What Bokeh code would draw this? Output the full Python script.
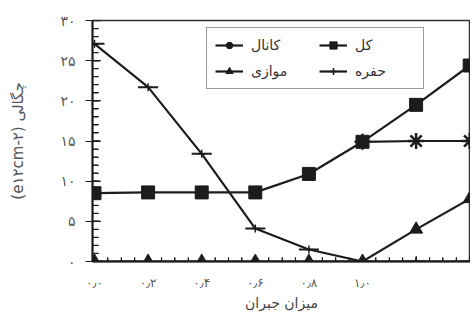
from bokeh.plotting import figure
from bokeh.models import (Range1d, FixedTicker, Legend, LegendItem,
                          CustomJSTickFormatter)
from bokeh.embed import file_html
from bokeh.resources import INLINE
import math

# ---- data ----
x_all = [0.0, 0.2, 0.4, 0.6, 0.8, 1.0, 1.2, 1.4]
kol = [8.5, 8.6, 8.6, 8.6, 10.9, 14.9, 19.5, 24.4]          # کل
hofreh = [27.1, 21.7, 13.4, 4.1, 1.5, 0.0, 0.0, 0.0]          # حفره
mavazi = [0.0, 0.0, 0.0, 0.0, 0.0, 0.0, 4.0, 7.8]             # موازی
kanal_x = [1.0, 1.2, 1.4]
kanal = [14.9, 15.0, 15.0]                                     # کانال

x_ticks = [0.0, 0.2, 0.4, 0.6, 0.8, 1.0, 1.2, 1.4]
x_tick_labels = ["۰٫۰", "۰٫۲", "۰٫۴", "۰٫۶", "۰٫۸", "۱٫۰", "", ""]
x_minor = [round(i * 0.05, 2) for i in range(0, 29)]
y_ticks = [0, 5, 10, 15, 20, 25, 30]
y_tick_labels = ["۰", "۵", "۱۰", "۱۵", "۲۰", "۲۵", "۳۰"]
y_minor = list(range(0, 31))

x_title = "میزان جبران"
y_title = "(e۱۲cm-۲) چگالی"
names = {"kanal": "کانال", "kol": "کل", "mavazi": "موازی", "hofreh": "حفره"}

FONT = "DejaVu Sans"
INK = "#1c1c1c"
TXT = "#555555"

LOOKUP = """
let k = -1;
for (let j = 0; j < tv.length; j++) { if (Math.abs(tv[j] - tick) < 1e-6) { k = j; } }
return k >= 0 ? tl[k] : "";
"""

p = figure(width=470, height=320, output_backend="svg", toolbar_location=None,
           x_range=Range1d(-0.0075, 1.403), y_range=Range1d(0, 30),
           min_border_left=92, min_border_right=0, min_border_top=20,
           min_border_bottom=59, frame_width=378, frame_height=241)
p.outline_line_color = "#333333"
p.outline_line_width = 1.5
p.grid.visible = False

# axes
xa = p.xaxis[0]
xa.ticker = FixedTicker(ticks=x_ticks, minor_ticks=x_minor)
xa.formatter = CustomJSTickFormatter(args=dict(tv=x_ticks, tl=x_tick_labels), code=LOOKUP)
xa.major_tick_in = 5
xa.major_tick_out = 0
xa.minor_tick_in = 4
xa.minor_tick_out = 0
xa.axis_line_width = 2
xa.axis_line_color = INK
xa.major_tick_line_color = INK
xa.minor_tick_line_color = INK
xa.major_label_text_font = FONT
xa.major_label_text_font_size = "12px"
xa.major_label_text_color = TXT
xa.major_label_standoff = 14
xa.axis_label = x_title
xa.axis_label_text_font = FONT
xa.axis_label_text_font_style = "normal"
xa.axis_label_text_font_size = "14px"
xa.axis_label_text_color = "#444444"
xa.axis_label_standoff = 2

ya = p.yaxis[0]
ya.ticker = FixedTicker(ticks=y_ticks, minor_ticks=y_minor)
ya.formatter = CustomJSTickFormatter(args=dict(tv=y_ticks, tl=y_tick_labels), code=LOOKUP)
ya.major_tick_in = 8
ya.major_tick_out = 7
ya.minor_tick_in = 6
ya.minor_tick_out = 0
ya.axis_line_width = 2
ya.axis_line_color = INK
ya.major_tick_line_color = INK
ya.minor_tick_line_color = INK
ya.major_label_text_font = FONT
ya.major_label_text_font_size = "14px"
ya.major_label_text_color = TXT
ya.major_label_standoff = 10
ya.axis_label = y_title
ya.axis_label_text_font = FONT
ya.axis_label_text_font_style = "normal"
ya.axis_label_text_font_size = "15px"
ya.axis_label_text_color = TXT
ya.axis_label_standoff = 30

# tick marks drawn on the axes from the tick arrays
x0 = p.x_range.start
y0 = p.y_range.start
p.scatter([x0] * len(y_ticks), y_ticks, marker="dash", size=16, line_color=INK, line_width=1.5)
p.scatter([x0] * len(y_minor), y_minor, marker="dash", size=12, line_color=INK, line_width=1.2)
p.scatter(x_ticks, [y0] * len(x_ticks), marker="dash", angle=math.pi / 2, size=10,
          line_color=INK, line_width=1.3)
p.scatter(x_minor, [y0] * len(x_minor), marker="dash", angle=math.pi / 2, size=8,
          line_color=INK, line_width=1.2)

# series
l_hof = p.line(x_all, hofreh, line_color=INK, line_width=2.2)
m_hof = p.scatter(x_all, hofreh, marker="dash", size=20, line_color=INK, line_width=2)
m_hof2 = p.scatter(x_all, hofreh, marker="cross", size=8, line_color=INK, line_width=1.5)

l_kol = p.line(x_all, kol, line_color=INK, line_width=2.2)
m_kol = p.scatter(x_all, kol, marker="square", size=13, fill_color=INK, line_color=INK)

l_mav = p.line(x_all, mavazi, line_color=INK, line_width=2.2)
m_mav = p.scatter(x_all, mavazi, marker="triangle", size=13, fill_color=INK, line_color=INK)

l_kan = p.line(kanal_x, kanal, line_color=INK, line_width=2.2)
m_kan = p.scatter(kanal_x, kanal, marker="asterisk", size=16, line_color=INK, line_width=2.5)

# items are filled column-first: kanal, mavazi | kol, hofreh
legend = Legend(items=[
    LegendItem(label=names["kanal"], renderers=[l_kan, m_kan]),
    LegendItem(label=names["mavazi"], renderers=[l_mav, m_mav]),
    LegendItem(label=names["kol"], renderers=[l_kol, m_kol]),
    LegendItem(label=names["hofreh"], renderers=[l_hof, m_hof2]),
], ncols=2, location=(114, 172))
legend.label_text_font = FONT
legend.label_text_font_size = "14px"
legend.label_text_color = "#333333"
legend.border_line_color = "#333333"
legend.border_line_width = 1
legend.background_fill_alpha = 1
legend.glyph_width = 28
legend.glyph_height = 18
legend.label_standoff = 8
legend.spacing = 8
legend.padding = 8
legend.margin = 0
legend.label_width = 60
p.add_layout(legend, "center")

open("out.html", "w").write(file_html(p, INLINE))
